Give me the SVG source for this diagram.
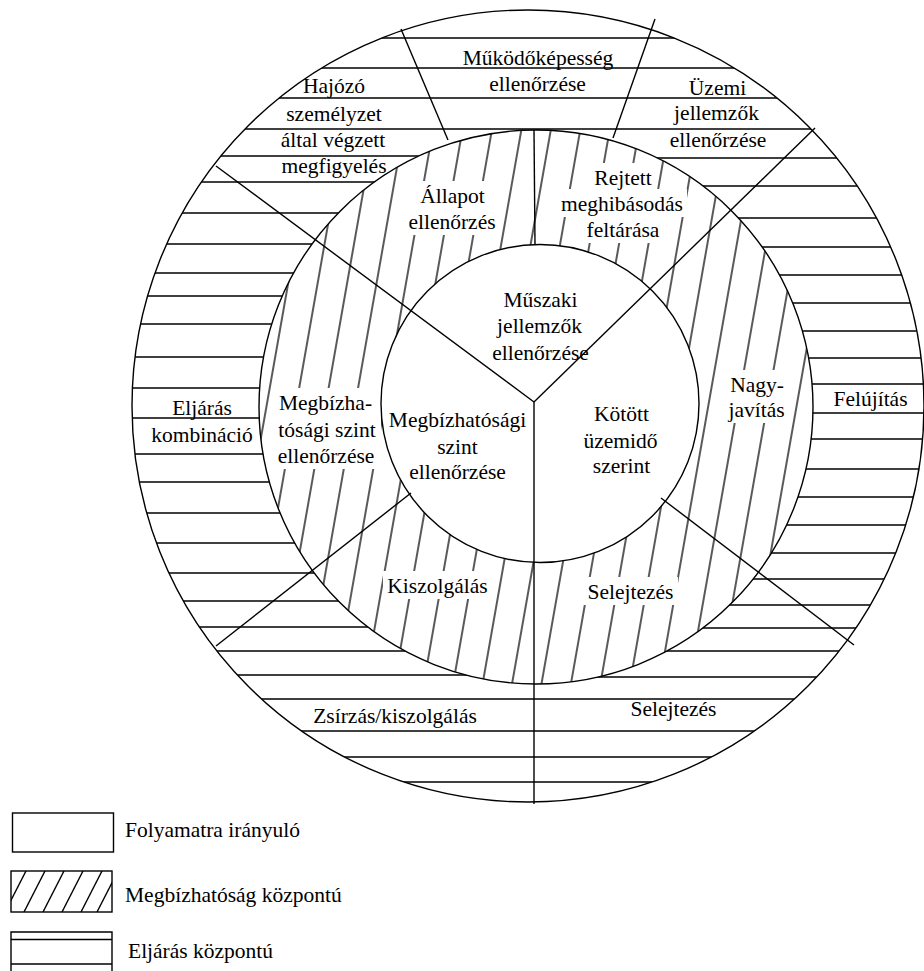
<svg xmlns="http://www.w3.org/2000/svg" width="924" height="971" viewBox="0 0 924 971">
<style>
.ln{stroke:#000;stroke-width:1.4;fill:none}
.hl{stroke:#000;stroke-width:1.4}
text{font-family:"Liberation Serif","Times New Roman",serif;font-size:21.5px;fill:#000}
.c{text-anchor:middle}
</style>
<defs>
<pattern id="hatch" patternUnits="userSpaceOnUse" width="29" height="29" patternTransform="rotate(10)">
<line x1="14" y1="-2" x2="14" y2="31" stroke="#000" stroke-width="1.3"/>
</pattern>
<clipPath id="outerRing">
<path clip-rule="evenodd" d="M132,406 a396,396 0 1,0 792,0 a396,396 0 1,0 -792,0 Z M259,407 a277,277 0 1,0 554,0 a277,277 0 1,0 -554,0 Z"/>
</clipPath>
<mask id="midMask" maskUnits="userSpaceOnUse" x="0" y="0" width="924" height="971">
<path fill="#fff" fill-rule="evenodd" d="M259,407 a277,277 0 1,0 554,0 a277,277 0 1,0 -554,0 Z M381,403.5 a159,159 0 1,0 318,0 a159,159 0 1,0 -318,0 Z"/>
<g fill="#000">
<rect x="416" y="181" width="73" height="28"/>
<rect x="404" y="207" width="96" height="28"/>
<rect x="590" y="163" width="66" height="28"/>
<rect x="557" y="189" width="130" height="28"/>
<rect x="583" y="215" width="80" height="28"/>
<rect x="726" y="370" width="62" height="28"/>
<rect x="723" y="395" width="67" height="28"/>
<rect x="274" y="388" width="103" height="28"/>
<rect x="273" y="415" width="108" height="28"/>
<rect x="273" y="441" width="106" height="28"/>
<rect x="383" y="571" width="109" height="28"/>
<rect x="583" y="577" width="95" height="28"/>
</g>
</mask>
<clipPath id="legClip"><rect x="11" y="871" width="101" height="41"/></clipPath>
</defs>

<g id="outer-hatching" clip-path="url(#outerRing)">
<g class="hl">
<line x1="100" y1="38" x2="930" y2="38"/>
<line x1="100" y1="68" x2="930" y2="68"/>
<line x1="100" y1="98" x2="930" y2="98"/>
<line x1="100" y1="129" x2="930" y2="129"/>
<line x1="100" y1="651" x2="930" y2="651"/>
<line x1="100" y1="699" x2="930" y2="699"/>
<line x1="100" y1="731" x2="930" y2="731"/>
<line x1="100" y1="757" x2="930" y2="757"/>
<line x1="100" y1="782" x2="930" y2="782"/>
<line x1="100" y1="156" x2="534" y2="156"/>
<line x1="100" y1="182" x2="534" y2="182"/>
<line x1="100" y1="213" x2="534" y2="213"/>
<line x1="100" y1="244" x2="534" y2="244"/>
<line x1="100" y1="273" x2="534" y2="273"/>
<line x1="100" y1="296" x2="534" y2="296"/>
<line x1="100" y1="324" x2="534" y2="324"/>
<line x1="100" y1="357" x2="534" y2="357"/>
<line x1="100" y1="388" x2="534" y2="388"/>
<line x1="100" y1="418" x2="534" y2="418"/>
<line x1="100" y1="454" x2="534" y2="454"/>
<line x1="100" y1="482" x2="534" y2="482"/>
<line x1="100" y1="513" x2="534" y2="513"/>
<line x1="100" y1="543" x2="534" y2="543"/>
<line x1="100" y1="573" x2="534" y2="573"/>
<line x1="100" y1="601" x2="534" y2="601"/>
<line x1="100" y1="627" x2="534" y2="627"/>
<line x1="100" y1="675" x2="534" y2="675"/>
<line x1="534" y1="158" x2="930" y2="158"/>
<line x1="534" y1="186" x2="930" y2="186"/>
<line x1="534" y1="218" x2="930" y2="218"/>
<line x1="534" y1="247" x2="930" y2="247"/>
<line x1="534" y1="275" x2="930" y2="275"/>
<line x1="534" y1="303" x2="930" y2="303"/>
<line x1="534" y1="331" x2="930" y2="331"/>
<line x1="534" y1="358" x2="930" y2="358"/>
<line x1="534" y1="384" x2="930" y2="384"/>
<line x1="534" y1="413" x2="930" y2="413"/>
<line x1="534" y1="439" x2="930" y2="439"/>
<line x1="534" y1="469" x2="930" y2="469"/>
<line x1="534" y1="497" x2="930" y2="497"/>
<line x1="534" y1="525" x2="930" y2="525"/>
<line x1="534" y1="553" x2="930" y2="553"/>
<line x1="534" y1="579" x2="930" y2="579"/>
<line x1="534" y1="605" x2="930" y2="605"/>
<line x1="534" y1="628" x2="930" y2="628"/>
<line x1="534" y1="677" x2="930" y2="677"/>
</g>
</g>

<g id="middle-hatching">
<rect x="250" y="120" width="575" height="580" fill="url(#hatch)" mask="url(#midMask)"/>
</g>

<g id="circles">
<circle class="ln" cx="528" cy="406" r="396"/>
<circle class="ln" cx="536" cy="407" r="277"/>
<circle class="ln" cx="540" cy="403.5" r="159"/>
</g>

<g id="connectors" class="ln">
<line x1="534" y1="402" x2="216" y2="166"/>
<line x1="534" y1="402" x2="815" y2="128"/>
<line x1="534" y1="402" x2="534" y2="804"/>
<line x1="411" y1="493" x2="216" y2="646"/>
<line x1="661" y1="498" x2="854" y2="645"/>
<line x1="401" y1="29" x2="448" y2="140"/>
<line x1="655" y1="19" x2="613" y2="138"/>
<line x1="534" y1="130" x2="535" y2="245"/>
</g>

<g id="node-mukodokepesseg"><text class="c" x="538" y="65">Működőképesség</text><text class="c" x="537.5" y="91">ellenőrzése</text></g>
<g id="node-hajozo"><text class="c" x="334" y="93">Hajózó</text><text class="c" x="334" y="121">személyzet</text><text class="c" x="333" y="147">által végzett</text><text class="c" x="334" y="173">megfigyelés</text></g>
<g id="node-uzemi"><text class="c" x="717.5" y="95">Üzemi</text><text class="c" x="716.5" y="120">jellemzők</text><text class="c" x="718" y="147">ellenőrzése</text></g>
<g id="node-allapot"><text class="c" x="452.5" y="203">Állapot</text><text class="c" x="452" y="229">ellenőrzés</text></g>
<g id="node-rejtett"><text class="c" x="623" y="185">Rejtett</text><text class="c" x="622" y="211">meghibásodás</text><text class="c" x="623" y="237">feltárása</text></g>
<g id="node-muszaki"><text class="c" x="540.5" y="307">Műszaki</text><text class="c" x="539.5" y="333">jellemzők</text><text class="c" x="540.5" y="360">ellenőrzése</text></g>
<g id="node-kotott"><text class="c" x="621.5" y="421">Kötött</text><text class="c" x="620.5" y="448">üzemidő</text><text class="c" x="621.5" y="473">szerint</text></g>
<g id="node-nagyjavitas"><text class="c" x="757" y="392">Nagy-</text><text class="c" x="756.5" y="417">javítás</text></g>
<g id="node-felujitas"><text class="c" x="870.5" y="406">Felújítás</text></g>
<g id="node-eljaras"><text class="c" x="202" y="415">Eljárás</text><text class="c" x="202" y="442">kombináció</text></g>
<g id="node-megbizhatosagi-ring"><text class="c" x="325.5" y="410">Megbízha-</text><text class="c" x="327" y="437">tósági szint</text><text class="c" x="326" y="463">ellenőrzése</text></g>
<g id="node-megbizhatosagi-core"><text class="c" x="457.5" y="427">Megbízhatósági</text><text class="c" x="457.5" y="454">szint</text><text class="c" x="457.5" y="479">ellenőrzése</text></g>
<g id="node-kiszolgalas"><text class="c" x="437.5" y="593">Kiszolgálás</text></g>
<g id="node-selejtezes-ring"><text class="c" x="630.5" y="599">Selejtezés</text></g>
<g id="node-zsirzas"><text class="c" x="395" y="723">Zsírzás/kiszolgálás</text></g>
<g id="node-selejtezes-outer"><text class="c" x="673.5" y="716">Selejtezés</text></g>

<g id="legend">
<rect class="ln" x="12.5" y="813" width="101" height="39"/>
<text x="125" y="837">Folyamatra irányuló</text>
<rect class="ln" x="11" y="871" width="101" height="41"/>
<g clip-path="url(#legClip)" class="ln">
<line x1="5" y1="912" x2="26" y2="871"/>
<line x1="24" y1="912" x2="45" y2="871"/>
<line x1="43" y1="912" x2="64" y2="871"/>
<line x1="62" y1="912" x2="83" y2="871"/>
<line x1="81" y1="912" x2="102" y2="871"/>
<line x1="97" y1="912" x2="118" y2="871"/>
</g>
<text x="125" y="902">Megbízhatóság központú</text>
<path class="ln" d="M11,975 V932 H112 V975"/>
<line class="ln" x1="11" y1="939.5" x2="112" y2="939.5"/>
<line class="ln" x1="11" y1="964" x2="112" y2="964"/>
<text x="128" y="958">Eljárás központú</text>
</g>
</svg>
